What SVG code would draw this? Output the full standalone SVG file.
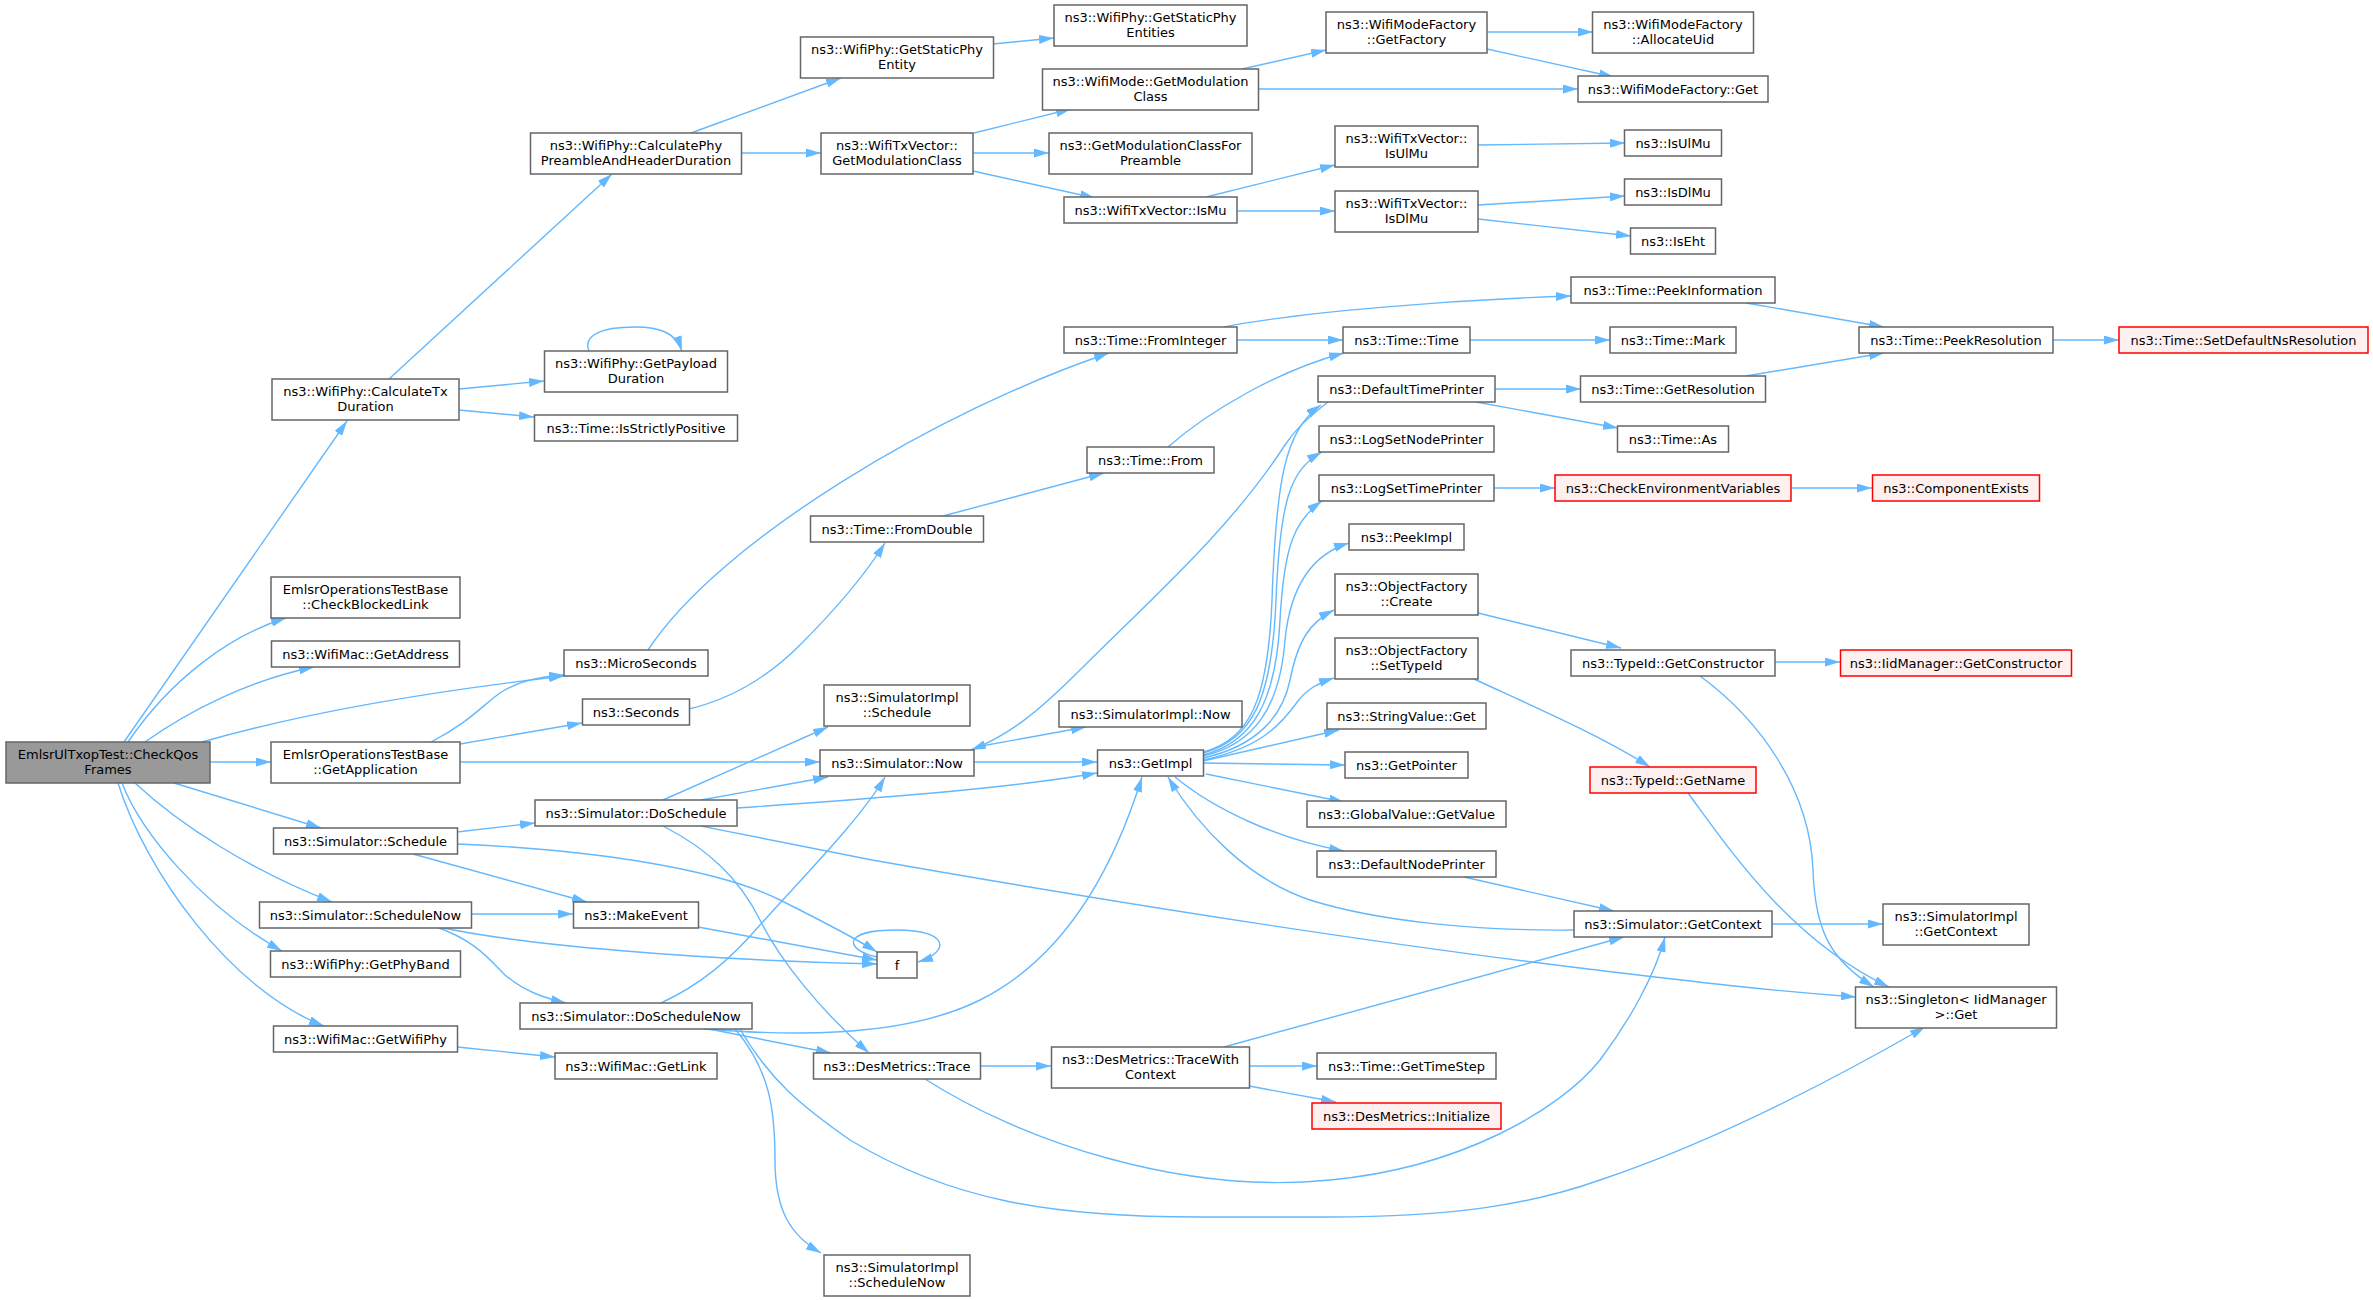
<svg xmlns="http://www.w3.org/2000/svg" width="2373" height="1300" viewBox="0 0 2373 1300">
<defs>
<marker id="ah" markerWidth="15" markerHeight="9" refX="15" refY="4.5" orient="auto" markerUnits="userSpaceOnUse"><path d="M0,0 L15,4.5 L0,9 z" fill="#63b8ff"/></marker>
<style>
.n rect{fill:#ffffff;stroke:#666666;stroke-width:1.5}
.r rect{fill:#fff0f0;stroke:#ff0000;stroke-width:1.5}
.g rect{fill:#999999;stroke:#666666;stroke-width:1.5}
text{font-family:"DejaVu Sans","Liberation Sans",sans-serif;font-size:13px;fill:#000000;text-anchor:middle}
#edges path{fill:none;stroke:#63b8ff;stroke-width:1.4;marker-end:url(#ah)}
</style>
</defs>
<rect x="0" y="0" width="2373" height="1300" fill="#ffffff"/>
<g id="edges">
<path d="M124,742 L347,421"/>
<path d="M128,742 C170,680 230,635 286,618"/>
<path d="M145,742 C190,710 250,680 314,667"/>
<path d="M202,742 C320,708 460,688 564,676"/>
<path d="M210,762 L271,762"/>
<path d="M174,783 L321,828"/>
<path d="M135,783 C180,825 250,870 332,902"/>
<path d="M122,783 C140,830 200,905 282,951"/>
<path d="M118,783 C145,870 230,990 324,1026"/>
<path d="M389,379 L612,174"/>
<path d="M459,389 L544,381"/>
<path d="M459,410 L534,417"/>
<path d="M589,351 C583,336 600,327 635,327 C660,327 676,333 682,351"/>
<path d="M691,133 L841,78"/>
<path d="M741,153 L821,153"/>
<path d="M993,44 L1054,38"/>
<path d="M974,133 L1071,109"/>
<path d="M973,153 L1049,153"/>
<path d="M973,171 L1095,198"/>
<path d="M1242,69 L1326,50"/>
<path d="M1259,89 L1578,89"/>
<path d="M1487,32 L1593,32"/>
<path d="M1487,49 L1614,77"/>
<path d="M1206,197 L1335,165"/>
<path d="M1237,211 L1335,211"/>
<path d="M1478,145 L1625,143"/>
<path d="M1478,205 L1625,196"/>
<path d="M1478,219 L1631,236"/>
<path d="M1224,327 C1300,312 1450,300 1571,296"/>
<path d="M1237,340 L1343,340"/>
<path d="M1470,340 L1610,340"/>
<path d="M1746,303 L1884,327"/>
<path d="M2053,340 L2119,340"/>
<path d="M1746,376 L1884,353"/>
<path d="M1495,389 L1581,389"/>
<path d="M1476,402 L1618,428"/>
<path d="M1494,488 L1555,488"/>
<path d="M1791,488 L1872,488"/>
<path d="M1168,447 C1210,410 1280,370 1344,353"/>
<path d="M943,516 L1104,473"/>
<path d="M648,650 C720,540 940,410 1109,353"/>
<path d="M689,709 C735,698 770,675 800,645 C835,610 865,575 885,543"/>
<path d="M431,742 C470,722 485,703 500,693 C520,680 540,677 564,675"/>
<path d="M460,744 L582,723"/>
<path d="M460,762 L820,762"/>
<path d="M457,832 L535,823"/>
<path d="M413,854 L587,902"/>
<path d="M457,844 C600,850 720,870 780,900 C820,920 850,935 877,952"/>
<path d="M471,914 L573,914"/>
<path d="M439,927 C520,945 700,960 877,964"/>
<path d="M698,927 L877,960"/>
<path d="M436,927 C475,940 490,960 505,975 C525,992 545,998 566,1003"/>
<path d="M877,957 C845,950 840,930 897,930 C950,930 950,952 918,962"/>
<path d="M663,800 L828,727"/>
<path d="M701,800 L828,777"/>
<path d="M737,808 C850,800 1000,790 1097,773"/>
<path d="M663,826 C710,850 740,880 760,920 C780,960 820,1010 869,1053"/>
<path d="M701,826 C760,838 820,850 872,860 C1100,900 1350,940 1580,968 C1680,980 1760,990 1856,997"/>
<path d="M661,1003 C700,985 730,960 760,925 C800,880 860,820 885,777"/>
<path d="M704,1029 C780,1035 900,1040 980,1000 C1060,960 1110,880 1142,777"/>
<path d="M709,1029 L831,1053"/>
<path d="M735,1029 C770,1070 775,1110 775,1160 C775,1210 790,1235 821,1253"/>
<path d="M740,1029 C770,1080 800,1105 850,1140 C950,1200 1050,1217 1200,1217 L1330,1217 C1450,1217 1530,1205 1600,1180 C1720,1140 1850,1070 1925,1027"/>
<path d="M976,747 L1086,727"/>
<path d="M974,762 L1097,762"/>
<path d="M1328,402 C1305,420 1295,430 1285,445 C1230,530 1150,600 1080,670 C1040,710 1010,735 971,750"/>
<path d="M1203,752 C1250,740 1268,700 1272,600 C1276,480 1285,430 1321,405"/>
<path d="M1203,753 C1252,740 1272,700 1276,600 C1280,500 1290,470 1322,452"/>
<path d="M1203,755 C1254,742 1276,700 1280,620 C1284,545 1295,520 1322,501"/>
<path d="M1203,756 C1256,744 1280,705 1285,640 C1290,590 1310,555 1349,543"/>
<path d="M1203,758 C1258,746 1283,715 1290,680 C1298,640 1310,622 1334,610"/>
<path d="M1203,760 C1260,748 1280,725 1295,705 C1305,690 1318,683 1334,678"/>
<path d="M1203,761 L1339,730"/>
<path d="M1203,763 L1345,765"/>
<path d="M1206,774 L1344,802"/>
<path d="M1175,777 C1215,810 1280,840 1344,851"/>
<path d="M1574,930 C1480,931 1380,922 1310,900 C1250,880 1200,830 1168,777"/>
<path d="M1464,877 L1614,911"/>
<path d="M1224,1047 L1624,937"/>
<path d="M925,1079 C1020,1140 1180,1195 1330,1180 C1460,1168 1560,1110 1600,1060 C1630,1020 1655,975 1665,937"/>
<path d="M1772,924 L1883,924"/>
<path d="M1478,613 L1621,648"/>
<path d="M1474,679 C1530,705 1600,735 1650,767"/>
<path d="M1775,662 L1840,662"/>
<path d="M1700,676 C1760,720 1810,790 1813,870 C1815,930 1830,960 1874,987"/>
<path d="M1688,793 C1730,850 1790,940 1889,987"/>
<path d="M981,1066 L1051,1066"/>
<path d="M1249,1066 L1317,1066"/>
<path d="M1249,1086 L1336,1102"/>
<path d="M457,1047 L555,1057"/>
</g>
<g id="root" class="g"><rect x="6" y="742" width="204" height="41"/><text x="108" y="759">EmlsrUlTxopTest::CheckQos</text><text x="108" y="774">Frames</text></g>
<g id="calcTx" class="n"><rect x="272" y="379" width="187" height="41"/><text x="365.5" y="396">ns3::WifiPhy::CalculateTx</text><text x="365.5" y="411">Duration</text></g>
<g id="checkBlocked" class="n"><rect x="271" y="577" width="189" height="41"/><text x="365.5" y="594">EmlsrOperationsTestBase</text><text x="365.5" y="609">::CheckBlockedLink</text></g>
<g id="getAddress" class="n"><rect x="271.5" y="641" width="188" height="26"/><text x="365.5" y="658.5">ns3::WifiMac::GetAddress</text></g>
<g id="getApplication" class="n"><rect x="271" y="742" width="189" height="41"/><text x="365.5" y="759">EmlsrOperationsTestBase</text><text x="365.5" y="774">::GetApplication</text></g>
<g id="schedule" class="n"><rect x="273.5" y="828" width="184" height="26"/><text x="365.5" y="845.5">ns3::Simulator::Schedule</text></g>
<g id="scheduleNow" class="n"><rect x="259.5" y="902" width="212" height="26"/><text x="365.5" y="919.5">ns3::Simulator::ScheduleNow</text></g>
<g id="getPhyBand" class="n"><rect x="270.5" y="951" width="190" height="26"/><text x="365.5" y="968.5">ns3::WifiPhy::GetPhyBand</text></g>
<g id="getWifiPhy" class="n"><rect x="273.5" y="1026" width="184" height="26"/><text x="365.5" y="1043.5">ns3::WifiMac::GetWifiPhy</text></g>
<g id="calcPhy" class="n"><rect x="530.5" y="133" width="211" height="41"/><text x="636" y="150">ns3::WifiPhy::CalculatePhy</text><text x="636" y="165">PreambleAndHeaderDuration</text></g>
<g id="getPayload" class="n"><rect x="544.5" y="351" width="183" height="41"/><text x="636" y="368">ns3::WifiPhy::GetPayload</text><text x="636" y="383">Duration</text></g>
<g id="isStrictlyPositive" class="n"><rect x="534.5" y="415" width="203" height="26"/><text x="636" y="432.5">ns3::Time::IsStrictlyPositive</text></g>
<g id="microSeconds" class="n"><rect x="564" y="650" width="144" height="26"/><text x="636" y="667.5">ns3::MicroSeconds</text></g>
<g id="seconds" class="n"><rect x="582.5" y="699" width="107" height="26"/><text x="636" y="716.5">ns3::Seconds</text></g>
<g id="doSchedule" class="n"><rect x="535" y="800" width="202" height="26"/><text x="636" y="817.5">ns3::Simulator::DoSchedule</text></g>
<g id="makeEvent" class="n"><rect x="573.5" y="902" width="125" height="26"/><text x="636" y="919.5">ns3::MakeEvent</text></g>
<g id="doScheduleNow" class="n"><rect x="520" y="1003" width="232" height="26"/><text x="636" y="1020.5">ns3::Simulator::DoScheduleNow</text></g>
<g id="getLink" class="n"><rect x="555" y="1053" width="162" height="26"/><text x="636" y="1070.5">ns3::WifiMac::GetLink</text></g>
<g id="getStaticPhyEntity" class="n"><rect x="800.5" y="37" width="193" height="41"/><text x="897" y="54">ns3::WifiPhy::GetStaticPhy</text><text x="897" y="69">Entity</text></g>
<g id="txGetModClass" class="n"><rect x="821" y="133" width="152" height="41"/><text x="897" y="150">ns3::WifiTxVector::</text><text x="897" y="165">GetModulationClass</text></g>
<g id="fromDouble" class="n"><rect x="810.5" y="516" width="173" height="26"/><text x="897" y="533.5">ns3::Time::FromDouble</text></g>
<g id="simImplSchedule" class="n"><rect x="824" y="685" width="146" height="41"/><text x="897" y="702">ns3::SimulatorImpl</text><text x="897" y="717">::Schedule</text></g>
<g id="simNow" class="n"><rect x="820" y="750" width="154" height="26"/><text x="897" y="767.5">ns3::Simulator::Now</text></g>
<g id="f" class="n"><rect x="877" y="952" width="40" height="26"/><text x="897" y="969.5">f</text></g>
<g id="trace" class="n"><rect x="813.5" y="1053" width="167" height="26"/><text x="897" y="1070.5">ns3::DesMetrics::Trace</text></g>
<g id="simImplScheduleNow" class="n"><rect x="824" y="1255" width="146" height="41"/><text x="897" y="1272">ns3::SimulatorImpl</text><text x="897" y="1287">::ScheduleNow</text></g>
<g id="getStaticPhyEntities" class="n"><rect x="1054" y="5" width="193" height="41"/><text x="1150.5" y="22">ns3::WifiPhy::GetStaticPhy</text><text x="1150.5" y="37">Entities</text></g>
<g id="modeGetModClass" class="n"><rect x="1042.5" y="69" width="216" height="41"/><text x="1150.5" y="86">ns3::WifiMode::GetModulation</text><text x="1150.5" y="101">Class</text></g>
<g id="forPreamble" class="n"><rect x="1049" y="133" width="203" height="41"/><text x="1150.5" y="150">ns3::GetModulationClassFor</text><text x="1150.5" y="165">Preamble</text></g>
<g id="isMu" class="n"><rect x="1064" y="197" width="173" height="26"/><text x="1150.5" y="214.5">ns3::WifiTxVector::IsMu</text></g>
<g id="fromInteger" class="n"><rect x="1064" y="327" width="173" height="26"/><text x="1150.5" y="344.5">ns3::Time::FromInteger</text></g>
<g id="timeFrom" class="n"><rect x="1087" y="447" width="127" height="26"/><text x="1150.5" y="464.5">ns3::Time::From</text></g>
<g id="simImplNow" class="n"><rect x="1059" y="701" width="183" height="26"/><text x="1150.5" y="718.5">ns3::SimulatorImpl::Now</text></g>
<g id="getImpl" class="n"><rect x="1097.5" y="750" width="106" height="26"/><text x="1150.5" y="767.5">ns3::GetImpl</text></g>
<g id="traceWithContext" class="n"><rect x="1051.5" y="1047" width="198" height="41"/><text x="1150.5" y="1064">ns3::DesMetrics::TraceWith</text><text x="1150.5" y="1079">Context</text></g>
<g id="getFactory" class="n"><rect x="1326" y="12" width="161" height="41"/><text x="1406.5" y="29">ns3::WifiModeFactory</text><text x="1406.5" y="44">::GetFactory</text></g>
<g id="txIsUlMu" class="n"><rect x="1335" y="126" width="143" height="41"/><text x="1406.5" y="143">ns3::WifiTxVector::</text><text x="1406.5" y="158">IsUlMu</text></g>
<g id="txIsDlMu" class="n"><rect x="1335" y="191" width="143" height="41"/><text x="1406.5" y="208">ns3::WifiTxVector::</text><text x="1406.5" y="223">IsDlMu</text></g>
<g id="timeTime" class="n"><rect x="1343" y="327" width="127" height="26"/><text x="1406.5" y="344.5">ns3::Time::Time</text></g>
<g id="defaultTimePrinter" class="n"><rect x="1318" y="376" width="177" height="26"/><text x="1406.5" y="393.5">ns3::DefaultTimePrinter</text></g>
<g id="logSetNodePrinter" class="n"><rect x="1319" y="426" width="175" height="26"/><text x="1406.5" y="443.5">ns3::LogSetNodePrinter</text></g>
<g id="logSetTimePrinter" class="n"><rect x="1319" y="475" width="175" height="26"/><text x="1406.5" y="492.5">ns3::LogSetTimePrinter</text></g>
<g id="peekImpl" class="n"><rect x="1349" y="524" width="115" height="26"/><text x="1406.5" y="541.5">ns3::PeekImpl</text></g>
<g id="ofCreate" class="n"><rect x="1335" y="574" width="143" height="41"/><text x="1406.5" y="591">ns3::ObjectFactory</text><text x="1406.5" y="606">::Create</text></g>
<g id="ofSetTypeId" class="n"><rect x="1335" y="638" width="143" height="41"/><text x="1406.5" y="655">ns3::ObjectFactory</text><text x="1406.5" y="670">::SetTypeId</text></g>
<g id="stringValueGet" class="n"><rect x="1327" y="703" width="159" height="26"/><text x="1406.5" y="720.5">ns3::StringValue::Get</text></g>
<g id="getPointer" class="n"><rect x="1345" y="752" width="123" height="26"/><text x="1406.5" y="769.5">ns3::GetPointer</text></g>
<g id="globalValue" class="n"><rect x="1307" y="801" width="199" height="26"/><text x="1406.5" y="818.5">ns3::GlobalValue::GetValue</text></g>
<g id="defaultNodePrinter" class="n"><rect x="1317" y="851" width="179" height="26"/><text x="1406.5" y="868.5">ns3::DefaultNodePrinter</text></g>
<g id="getTimeStep" class="n"><rect x="1317" y="1053" width="179" height="26"/><text x="1406.5" y="1070.5">ns3::Time::GetTimeStep</text></g>
<g id="desInitialize" class="r"><rect x="1312" y="1103" width="189" height="26"/><text x="1406.5" y="1120.5">ns3::DesMetrics::Initialize</text></g>
<g id="allocateUid" class="n"><rect x="1592.5" y="12" width="161" height="41"/><text x="1673" y="29">ns3::WifiModeFactory</text><text x="1673" y="44">::AllocateUid</text></g>
<g id="modeFactoryGet" class="n"><rect x="1578" y="76" width="190" height="26"/><text x="1673" y="93.5">ns3::WifiModeFactory::Get</text></g>
<g id="isUlMu" class="n"><rect x="1624.5" y="130" width="97" height="26"/><text x="1673" y="147.5">ns3::IsUlMu</text></g>
<g id="isDlMu" class="n"><rect x="1624.5" y="179" width="97" height="26"/><text x="1673" y="196.5">ns3::IsDlMu</text></g>
<g id="isEht" class="n"><rect x="1630.5" y="228" width="85" height="26"/><text x="1673" y="245.5">ns3::IsEht</text></g>
<g id="peekInformation" class="n"><rect x="1571" y="277" width="204" height="26"/><text x="1673" y="294.5">ns3::Time::PeekInformation</text></g>
<g id="timeMark" class="n"><rect x="1610" y="327" width="126" height="26"/><text x="1673" y="344.5">ns3::Time::Mark</text></g>
<g id="getResolution" class="n"><rect x="1580.5" y="376" width="185" height="26"/><text x="1673" y="393.5">ns3::Time::GetResolution</text></g>
<g id="timeAs" class="n"><rect x="1617.5" y="426" width="111" height="26"/><text x="1673" y="443.5">ns3::Time::As</text></g>
<g id="checkEnv" class="r"><rect x="1555" y="475" width="236" height="26"/><text x="1673" y="492.5">ns3::CheckEnvironmentVariables</text></g>
<g id="typeIdGetConstructor" class="n"><rect x="1571" y="650" width="204" height="26"/><text x="1673" y="667.5">ns3::TypeId::GetConstructor</text></g>
<g id="typeIdGetName" class="r"><rect x="1590" y="767" width="166" height="26"/><text x="1673" y="784.5">ns3::TypeId::GetName</text></g>
<g id="simGetContext" class="n"><rect x="1574" y="911" width="198" height="26"/><text x="1673" y="928.5">ns3::Simulator::GetContext</text></g>
<g id="peekResolution" class="n"><rect x="1859" y="327" width="194" height="26"/><text x="1956" y="344.5">ns3::Time::PeekResolution</text></g>
<g id="componentExists" class="r"><rect x="1872.5" y="475" width="167" height="26"/><text x="1956" y="492.5">ns3::ComponentExists</text></g>
<g id="iidGetConstructor" class="r"><rect x="1840.5" y="650" width="231" height="26"/><text x="1956" y="667.5">ns3::IidManager::GetConstructor</text></g>
<g id="simImplGetContext" class="n"><rect x="1883" y="904" width="146" height="41"/><text x="1956" y="921">ns3::SimulatorImpl</text><text x="1956" y="936">::GetContext</text></g>
<g id="singletonGet" class="n"><rect x="1855.5" y="987" width="201" height="41"/><text x="1956" y="1004">ns3::Singleton&lt; IidManager</text><text x="1956" y="1019">&gt;::Get</text></g>
<g id="setDefaultNsResolution" class="r"><rect x="2119" y="327" width="249" height="26"/><text x="2243.5" y="344.5">ns3::Time::SetDefaultNsResolution</text></g>
</svg>
